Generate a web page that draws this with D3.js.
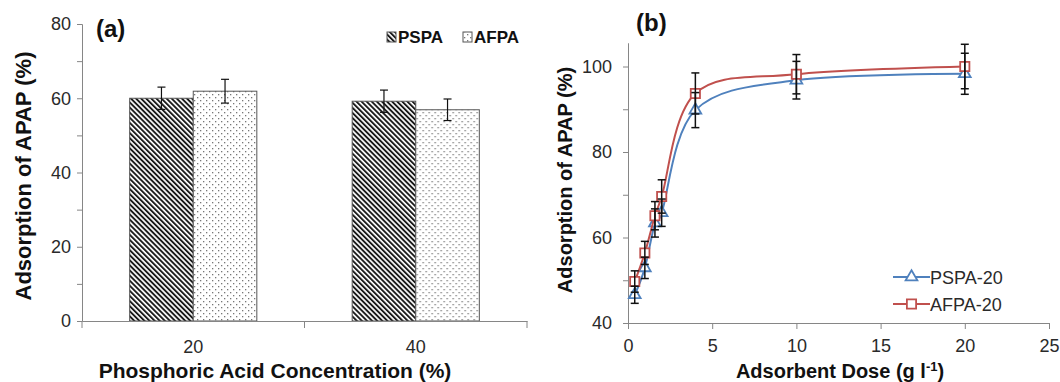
<!DOCTYPE html>
<html>
<head>
<meta charset="utf-8">
<script src="https://cdn.jsdelivr.net/npm/d3@7"></script>
<style>
  body { margin: 0; background: #fff; }
  svg { display: block; font-family: "Liberation Sans", Arial, sans-serif; }
</style>
</head>
<body>
<div id="chart"></div>
<script>
// panel (a) data
const concCategories = ['20', '40'];
const barSeries = ['PSPA', 'AFPA'];
const pspaBar = [60.0, 59.2];
const pspaBarErr = [3.0, 3.0];
const afpaBar = [61.9, 56.9];
const afpaBarErr = [3.2, 2.9];
const aTicks = [0, 20, 40, 60, 80];
const aMinorTicks = [10, 30, 50, 70];

// panel (b) data
const dose = [0.4, 1.0, 1.6, 2.0, 4.0, 10, 20];
const pspa20 = [46.6, 52.9, 63.4, 65.8, 89.8, 96.8, 98.3];
const pspa20Err = [2.0, 2.5, 3.3, 3.2, 4.1, 4.4, 4.8];
const afpa20 = [49.7, 56.4, 65.1, 69.6, 93.7, 98.2, 100.0];
const afpa20Err = [2.5, 2.7, 3.3, 3.9, 4.8, 4.6, 5.2];
const bXTicks = [0, 5, 10, 15, 20, 25];
const bYTicks = [40, 60, 80, 100];
const bYMinorTicks = [50, 70, 90];

const axisColor = '#868686';
const labelColor = '#2a2a2a';
const blue = '#4F81BD';
const red = '#C0504D';

const svg = d3.select('#chart').append('svg')
    .attr('width', 1060)
    .attr('height', 382);

// patterns for the bars
const defs = svg.append('defs');
const stripes = defs.append('pattern')
    .attr('id', 'stripes')
    .attr('patternUnits', 'userSpaceOnUse')
    .attr('width', 3.6)
    .attr('height', 3.6)
    .attr('patternTransform', 'rotate(-45)');
stripes.append('rect').attr('width', 3.6).attr('height', 3.6).attr('fill', '#fff');
stripes.append('rect').attr('width', 1.9).attr('height', 3.6).attr('fill', '#1a1a1a');

const dots = defs.append('pattern')
    .attr('id', 'dots')
    .attr('patternUnits', 'userSpaceOnUse')
    .attr('width', 6)
    .attr('height', 6);
dots.append('rect').attr('width', 6).attr('height', 6).attr('fill', '#fff');
dots.append('rect').attr('x', 1).attr('y', 1).attr('width', 1.3).attr('height', 1.3).attr('fill', '#777');
dots.append('rect').attr('x', 4).attr('y', 4).attr('width', 1.3).attr('height', 1.3).attr('fill', '#777');

function styleAxis(g) {
    g.select('.domain').attr('stroke', axisColor);
    g.selectAll('.tick line').attr('stroke', axisColor);
    g.selectAll('.tick text').attr('fill', labelColor).style('font-size', '18px');
}

// ---------------- panel (a) ----------------
const aLeft = 82, aRight = 527, aTop = 24, aBottom = 321;

const x0 = d3.scaleBand().domain(concCategories).range([aLeft, aRight]).padding(0);
const x1 = d3.scaleBand().domain(barSeries).range([0, x0.bandwidth()])
    .paddingInner(0).paddingOuter(0.75);
const yA = d3.scaleLinear().domain([0, 80]).range([aBottom, aTop]);

const barRows = concCategories.map((c, i) => ({
    cat: c,
    bars: [
        { s: 'PSPA', v: pspaBar[i], e: pspaBarErr[i], fill: 'url(#stripes)' },
        { s: 'AFPA', v: afpaBar[i], e: afpaBarErr[i], fill: 'url(#dots)' }
    ]
}));

const groups = svg.append('g').selectAll('g')
    .data(barRows).join('g')
    .attr('transform', d => `translate(${x0(d.cat)},0)`);

groups.selectAll('rect')
    .data(d => d.bars).join('rect')
    .attr('x', d => x1(d.s))
    .attr('y', d => yA(d.v))
    .attr('width', x1.bandwidth())
    .attr('height', d => yA(0) - yA(d.v))
    .attr('fill', d => d.fill)
    .attr('stroke', '#555')
    .attr('stroke-width', 1);

const errA = groups.selectAll('g.err')
    .data(d => d.bars).join('g')
    .attr('class', 'err')
    .attr('stroke', '#111')
    .attr('stroke-width', 1.2);
errA.append('line')
    .attr('x1', d => x1(d.s) + x1.bandwidth() / 2)
    .attr('x2', d => x1(d.s) + x1.bandwidth() / 2)
    .attr('y1', d => yA(d.v + d.e))
    .attr('y2', d => yA(d.v - d.e));
errA.append('line')
    .attr('x1', d => x1(d.s) + x1.bandwidth() / 2 - 4)
    .attr('x2', d => x1(d.s) + x1.bandwidth() / 2 + 4)
    .attr('y1', d => yA(d.v + d.e))
    .attr('y2', d => yA(d.v + d.e));
errA.append('line')
    .attr('x1', d => x1(d.s) + x1.bandwidth() / 2 - 4)
    .attr('x2', d => x1(d.s) + x1.bandwidth() / 2 + 4)
    .attr('y1', d => yA(d.v - d.e))
    .attr('y2', d => yA(d.v - d.e));

// y axis (a)
svg.append('g')
    .attr('transform', `translate(${aLeft},0)`)
    .call(d3.axisLeft(yA).tickValues(aMinorTicks).tickSize(5).tickSizeOuter(0).tickFormat(''))
    .call(styleAxis);
svg.append('g')
    .attr('transform', `translate(${aLeft},0)`)
    .call(d3.axisLeft(yA).tickValues(aTicks).tickSize(5).tickSizeOuter(0).tickPadding(6))
    .call(styleAxis);

// x axis (a): labels at category centres, ticks at band boundaries
const xAxisA = svg.append('g')
    .attr('transform', `translate(0,${aBottom})`)
    .call(d3.axisBottom(x0).tickSize(0).tickSizeOuter(0).tickPadding(19))
    .call(styleAxis);
xAxisA.selectAll('.bound')
    .data([aLeft, ...concCategories.map(c => x0(c) + x0.bandwidth())])
    .join('line')
    .attr('class', 'bound')
    .attr('x1', d => d).attr('x2', d => d)
    .attr('y1', 0).attr('y2', 7)
    .attr('stroke', axisColor);

// titles (a)
svg.append('text')
    .attr('x', 275).attr('y', 378)
    .attr('text-anchor', 'middle')
    .style('font-size', '21px').style('font-weight', 'bold')
    .attr('fill', '#111')
    .text('Phosphoric Acid Concentration (%)');
svg.append('text')
    .attr('transform', 'translate(31,176) rotate(-90)')
    .attr('text-anchor', 'middle')
    .style('font-size', '22px').style('font-weight', 'bold')
    .attr('fill', '#111')
    .text('Adsorption of APAP (%)');
svg.append('text')
    .attr('x', 96).attr('y', 37)
    .style('font-size', '24px').style('font-weight', 'bold')
    .attr('fill', '#111')
    .text('(a)');

// legend (a)
const legA = svg.append('g').selectAll('g')
    .data([
        { name: 'PSPA', x: 387, fill: 'url(#stripes)' },
        { name: 'AFPA', x: 463, fill: 'url(#dots)' }
    ]).join('g')
    .attr('transform', d => `translate(${d.x},0)`);
legA.append('rect')
    .attr('x', 0).attr('y', 32).attr('width', 9).attr('height', 10)
    .attr('fill', d => d.fill)
    .attr('stroke', '#555');
legA.append('text')
    .attr('x', 11).attr('y', 43)
    .style('font-size', '17px').style('font-weight', 'bold')
    .attr('fill', '#111')
    .text(d => d.name);

// ---------------- panel (b) ----------------
const bLeft = 628, bRight = 1049, bTop = 43, bBottom = 323;
const xB = d3.scaleLinear().domain([0, 25]).range([bLeft, bRight]);
const yB = d3.scaleLinear().domain([40, 105.5]).range([bBottom, bTop]);

svg.append('g')
    .attr('transform', `translate(0,${bBottom})`)
    .call(d3.axisBottom(xB).tickValues(bXTicks).tickSize(6).tickSizeOuter(0).tickPadding(10))
    .call(styleAxis);
svg.append('g')
    .attr('transform', `translate(${bLeft},0)`)
    .call(d3.axisLeft(yB).tickValues(bYMinorTicks).tickSize(5).tickSizeOuter(0).tickFormat(''))
    .call(styleAxis);
svg.append('g')
    .attr('transform', `translate(${bLeft},0)`)
    .call(d3.axisLeft(yB).tickValues(bYTicks).tickSize(5).tickSizeOuter(0).tickPadding(11))
    .call(styleAxis);

const seriesB = [
    { name: 'PSPA-20', vals: pspa20, errs: pspa20Err, color: blue, symbol: d3.symbolTriangle, size: 60 },
    { name: 'AFPA-20', vals: afpa20, errs: afpa20Err, color: red, symbol: d3.symbolSquare, size: 85 }
];

const line = d3.line()
    .x(d => xB(d.x))
    .y(d => yB(d.y))
    .curve(d3.curveCardinal.tension(0));

seriesB.forEach(s => {
    const pts = dose.map((x, i) => ({ x, y: s.vals[i], e: s.errs[i] }));
    svg.append('path')
        .datum(pts)
        .attr('d', line)
        .attr('fill', 'none')
        .attr('stroke', s.color)
        .attr('stroke-width', 2);
    svg.append('g').selectAll('path')
        .data(pts).join('path')
        .attr('transform', d => `translate(${xB(d.x)},${yB(d.y)})`)
        .attr('d', d3.symbol().type(s.symbol).size(s.size))
        .attr('fill', '#fff')
        .attr('stroke', s.color)
        .attr('stroke-width', 1.8);
});

seriesB.forEach(s => {
    const pts = dose.map((x, i) => ({ x, y: s.vals[i], e: s.errs[i] }));
    const eg = svg.append('g').selectAll('g')
        .data(pts).join('g')
        .attr('stroke', '#111')
        .attr('stroke-width', 1.5);
    eg.append('line')
        .attr('x1', d => xB(d.x)).attr('x2', d => xB(d.x))
        .attr('y1', d => yB(d.y + d.e)).attr('y2', d => yB(d.y - d.e));
    eg.append('line')
        .attr('x1', d => xB(d.x) - 4).attr('x2', d => xB(d.x) + 4)
        .attr('y1', d => yB(d.y + d.e)).attr('y2', d => yB(d.y + d.e));
    eg.append('line')
        .attr('x1', d => xB(d.x) - 4).attr('x2', d => xB(d.x) + 4)
        .attr('y1', d => yB(d.y - d.e)).attr('y2', d => yB(d.y - d.e));
});

// legend (b)
const legB = svg.append('g').selectAll('g')
    .data(seriesB).join('g')
    .attr('transform', (d, i) => `translate(893,${277 + i * 27})`);
legB.append('line')
    .attr('x1', 0).attr('x2', 37)
    .attr('stroke', d => d.color).attr('stroke-width', 2);
legB.append('path')
    .attr('transform', 'translate(18.5,0)')
    .attr('d', d => d3.symbol().type(d.symbol).size(d.size)())
    .attr('fill', '#fff')
    .attr('stroke', d => d.color)
    .attr('stroke-width', 1.8);
legB.append('text')
    .attr('x', 37).attr('y', 6.5)
    .style('font-size', '18px')
    .attr('fill', labelColor)
    .text(d => d.name);

// titles (b)
const xTitleB = svg.append('text')
    .attr('x', 840).attr('y', 378)
    .attr('text-anchor', 'middle')
    .style('font-size', '20px').style('font-weight', 'bold')
    .attr('fill', '#111');
xTitleB.append('tspan').text('Adsorbent Dose (g l');
xTitleB.append('tspan').attr('dy', -7).style('font-size', '13px').text('-1');
xTitleB.append('tspan').attr('dy', 7).text(')');

svg.append('text')
    .attr('transform', 'translate(572,180) rotate(-90)')
    .attr('text-anchor', 'middle')
    .style('font-size', '20px').style('font-weight', 'bold')
    .attr('fill', '#111')
    .text('Adsorption of APAP (%)');
svg.append('text')
    .attr('x', 636).attr('y', 31)
    .style('font-size', '24px').style('font-weight', 'bold')
    .attr('fill', '#111')
    .text('(b)');
</script>
</body>
</html>
